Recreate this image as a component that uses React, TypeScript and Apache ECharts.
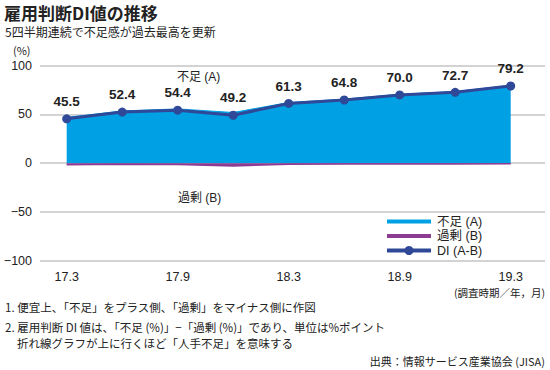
import React, { useEffect, useRef } from "react";
import * as echarts from "echarts";

const periods = ["17.3", "17.6", "17.9", "17.12", "18.3", "18.6", "18.9", "18.12", "19.3"];
const shownLabelIdx = [0, 2, 4, 6, 8];
const diValues = [45.5, 52.4, 54.4, 49.2, 61.3, 64.8, 70.0, 72.7, 79.2];
const shortageValues = [47.0, 53.6, 55.7, 52.0, 62.3, 65.7, 70.7, 73.5, 79.8];
const surplusValues = [-1.5, -1.2, -1.3, -2.8, -1.0, -0.9, -0.7, -0.8, -0.6];
const yTicks = [-100, -50, 0, 50, 100];
const legendNames = ["不足 (A)", "過剰 (B)", "DI (A-B)"];

const FONT = "'Liberation Sans', 'Noto Sans CJK JP', sans-serif";
const JP = "'Noto Sans CJK JP', sans-serif";
const BLUE = "#00a0e4";
const PURPLE = "#8c3d91";
const NAVY = "#2f4898";
const TXT = "#222";

export default function App() {
  const ref = useRef<HTMLDivElement>(null);
  useEffect(() => {
    if (!ref.current) return;
    const chart = echarts.init(ref.current, null, { renderer: "svg" });
    const pair = (arr: number[]) => arr.map((v, i) => [i, v]);
    const legendColors = [BLUE, PURPLE, NAVY];
    const legendYs = [221.5, 236, 250.5];
    const legendGraphics: any[] = [];
    legendNames.forEach((name, i) => {
      legendGraphics.push({
        type: "line",
        shape: { x1: 387, y1: legendYs[i], x2: 431, y2: legendYs[i] },
        style: { stroke: legendColors[i], lineWidth: 4 },
      });
      if (i === 2) {
        legendGraphics.push({ type: "circle", shape: { cx: 409, cy: legendYs[i], r: 4.5 }, style: { fill: NAVY } });
      }
      legendGraphics.push({
        type: "text",
        x: 437,
        y: legendYs[i],
        style: { text: name, fontSize: 12.5, fill: TXT, fontFamily: FONT, verticalAlign: "middle" },
      });
    });
    const txt = (x: number, y: number, text: string, fontSize: number, extra: any = {}) => ({
      type: "text",
      x,
      y,
      style: { text, fontSize, fill: TXT, fontFamily: JP, verticalAlign: "middle", ...extra },
    });
    chart.setOption({
      animation: false,
      backgroundColor: "#fff",
      textStyle: { fontFamily: FONT },
      grid: { left: 40, right: 5, top: 65.7, bottom: 109.3, containLabel: false },
      xAxis: {
        type: "value",
        min: -0.481,
        max: 8.618,
        axisLine: { show: false },
        axisTick: { show: false },
        splitLine: { show: false },
        axisLabel: {
          customValues: shownLabelIdx,
          formatter: (v: number) => periods[Math.round(v)] ?? "",
          color: TXT,
          fontSize: 12.5,
          margin: 10,
          fontFamily: FONT,
        },
      },
      yAxis: {
        type: "value",
        min: yTicks[0],
        max: yTicks[yTicks.length - 1],
        interval: 50,
        axisLine: { show: false },
        axisTick: { show: false },
        splitLine: { lineStyle: { color: "#c4c4c4", width: 1.5 } },
        axisLabel: {
          formatter: (v: number) => String(v).replace("-", "−"),
          color: TXT,
          fontSize: 12.5,
          margin: 8,
          fontFamily: FONT,
        },
      },
      series: [
        {
          name: legendNames[0],
          type: "line",
          data: pair(shortageValues),
          symbol: "none",
          lineStyle: { color: BLUE, width: 1 },
          itemStyle: { color: BLUE },
          areaStyle: { color: BLUE, opacity: 1 },
          z: 1,
        },
        {
          name: legendNames[1],
          type: "line",
          data: pair(surplusValues),
          symbol: "none",
          lineStyle: { color: PURPLE, width: 1.5 },
          itemStyle: { color: PURPLE },
          areaStyle: { color: PURPLE, opacity: 1 },
          z: 2,
        },
        {
          name: legendNames[2],
          type: "line",
          data: pair(diValues),
          symbol: "circle",
          symbolSize: 9,
          lineStyle: { color: NAVY, width: 3 },
          itemStyle: { color: NAVY },
          label: {
            show: true,
            position: "top",
            distance: 6,
            fontSize: 13.5,
            fontWeight: "bold",
            color: TXT,
            fontFamily: FONT,
            formatter: (p: any) => Number(p.value[1]).toFixed(1),
          },
          z: 3,
        },
      ],
      graphic: [
        txt(4, 12, "雇用判断DI値の推移", 17, { fontWeight: "bold" }),
        txt(5, 31.5, "5四半期連続で不足感が過去最高を更新", 12),
        txt(13, 50, "(%)", 11),
        txt(177, 76.5, "不足 (A)", 12, { fontFamily: FONT }),
        txt(178, 198, "過剰 (B)", 12, { fontFamily: FONT }),
        txt(545, 292, "(調査時期／年，月)", 10.5, { align: "right" }),
        txt(5, 307, "1. 便宜上、「不足」をプラス側、「過剰」をマイナス側に作図", 11.5),
        txt(5, 327, "2. 雇用判断 DI 値は、「不足 (%)」−「過剰 (%)」であり、単位は%ポイント", 11.5),
        txt(17, 343, "折れ線グラフが上に行くほど「人手不足」を意味する", 11.5),
        txt(545, 361, "出典：情報サービス産業協会 (JISA)", 11, { align: "right" }),
        ...legendGraphics,
      ],
    });
    return () => chart.dispose();
  }, []);
  return <div ref={ref} style={{ width: 550, height: 370, position: "absolute", left: 0, top: 0 }} />;
}
